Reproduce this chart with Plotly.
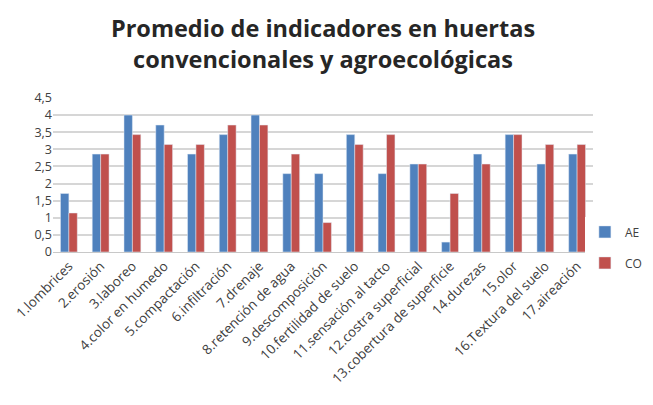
import plotly.graph_objects as go

categorias = ["1.lombrices", "2.erosión", "3.laboreo", "4.color en humedo", "5.compactación",
              "6.infiltración", "7.drenaje", "8.retención de agua", "9.descomposición",
              "10.fertilidad de suelo", "11.sensación al tacto", "12.costra superficial",
              "13.cobertura de superficie", "14.durezas", "15.olor", "16.Textura del suelo",
              "17.aireación"]
ae = [1.71, 2.86, 4.0, 3.71, 2.86, 3.43, 4.0, 2.29, 2.29, 3.43, 2.29, 2.57, 0.29, 2.86, 3.43, 2.57, 2.86]
co = [1.14, 2.86, 3.43, 3.14, 3.14, 3.71, 3.71, 2.86, 0.86, 3.14, 3.43, 2.57, 1.71, 2.57, 3.43, 3.14, 3.14]
yticks = [0, 0.5, 1, 1.5, 2, 2.5, 3, 3.5, 4, 4.5]

fig = go.Figure()
fig.add_trace(go.Bar(x=categorias, y=ae, name="AE", marker_color="#4F81BD", legendgroup="ae"))
fig.add_trace(go.Bar(x=categorias, y=co, name="CO", marker_color="#C0504D", legendgroup="co"))

fig.update_layout(
    width=653, height=405,
    separators=",.",
    font=dict(family="Open Sans, Liberation Sans, sans-serif", color="#404040"),
    title=dict(text="<b>Promedio de indicadores en huertas<br>convencionales y agroecológicas</b>",
               x=0.5, xanchor="center", xref="paper", yref="container",
               y=1 - 29 / 405, yanchor="middle",
               font=dict(size=23.5, color="#262626")),
    margin=dict(l=45, r=68, t=90, b=161, autoexpand=False),
    plot_bgcolor="white", paper_bgcolor="white",
    bargap=0.47, bargroupgap=0,
    legend=dict(x=0.985, y=0.03, xanchor="left", yanchor="middle",
                font=dict(size=12), itemwidth=30, traceorder="grouped",
                tracegroupgap=12),
)
fig.update_yaxes(range=[0, 4.5], tickvals=yticks, showgrid=True, gridcolor="#D6D6D6",
                 gridwidth=1.5, tickfont=dict(size=12.5), zeroline=False, ticks="")
fig.update_xaxes(tickangle=-45, tickfont=dict(size=13.5), showline=True,
                 linecolor="#C8C8C8")

fig.write_html("out.html")
